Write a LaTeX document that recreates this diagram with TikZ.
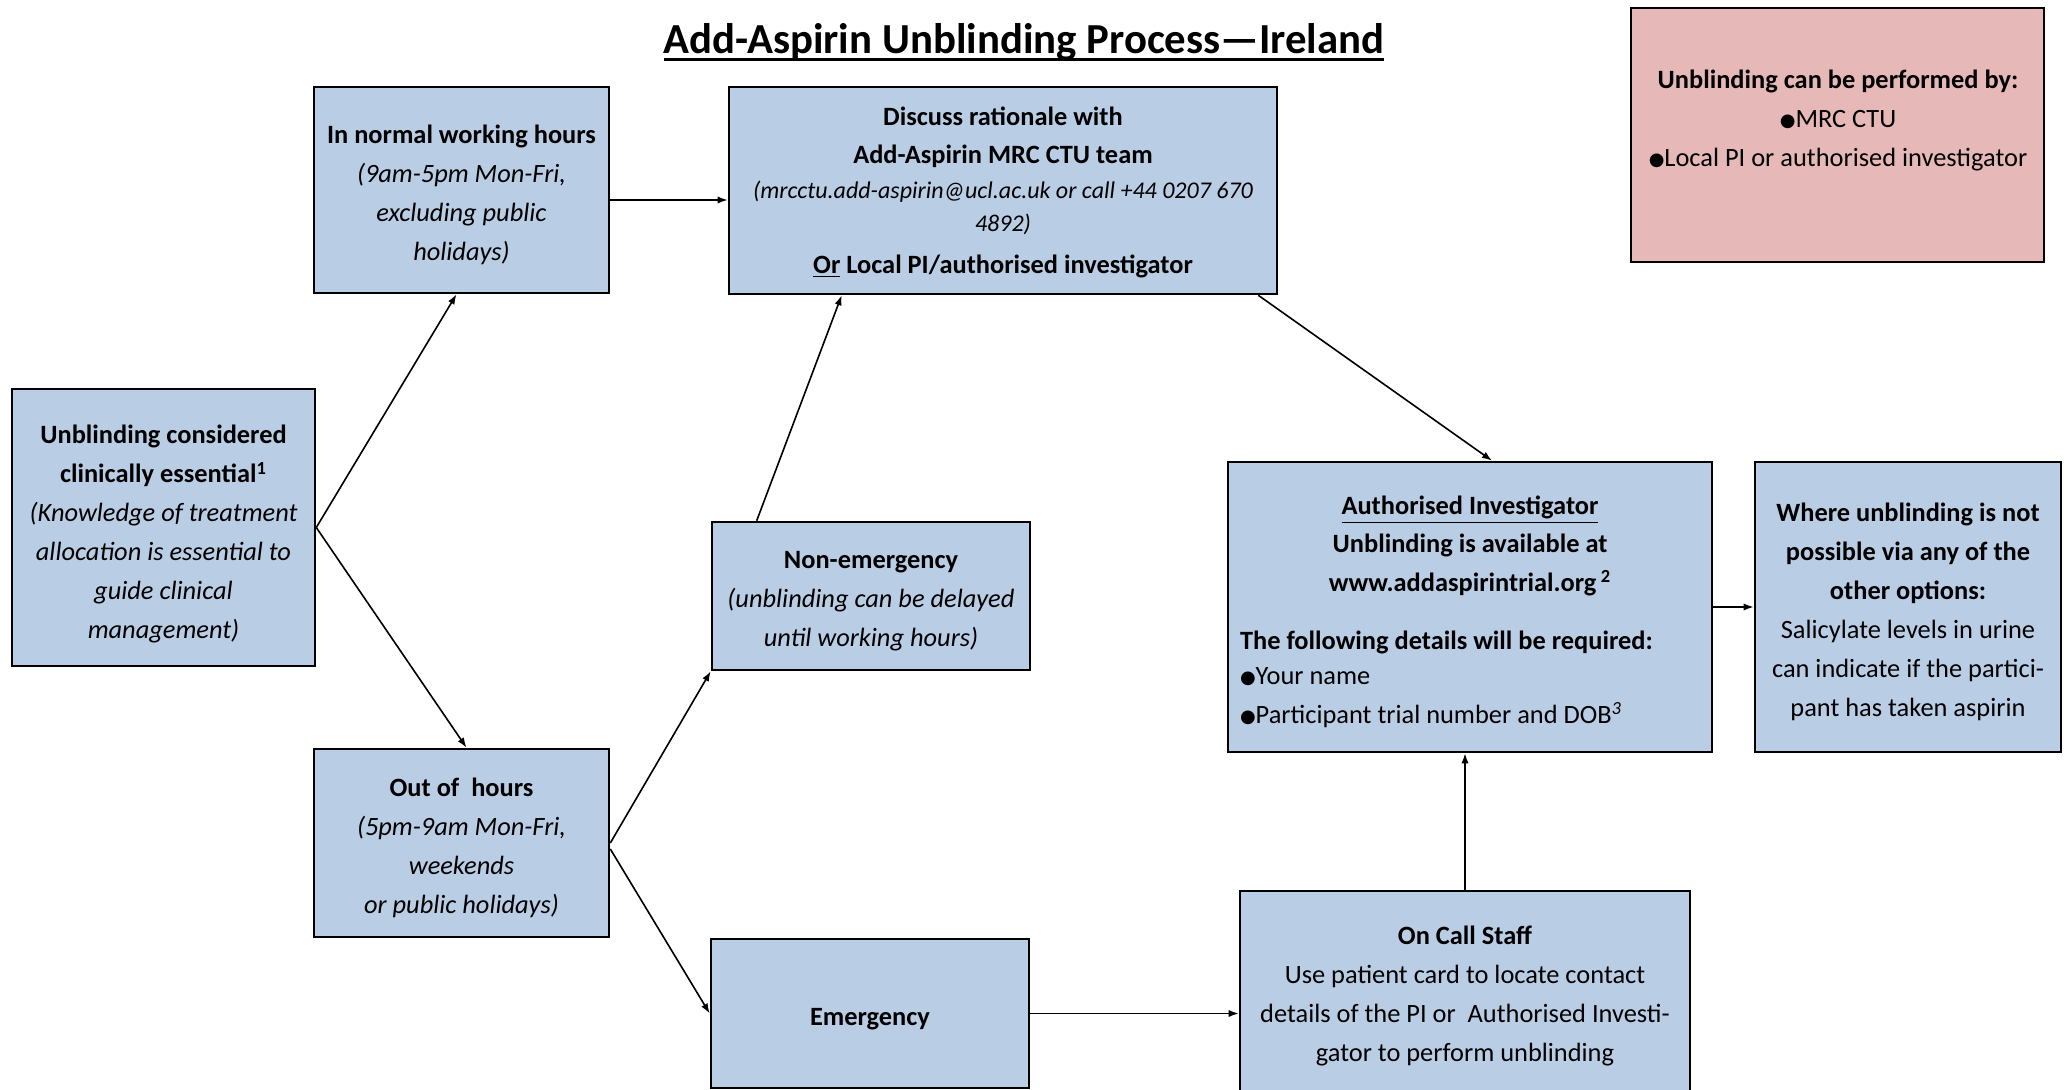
\documentclass[tikz,border=0pt]{standalone}
\usepackage{fontspec}
\setmainfont{Carlito}
\newfontfamily\dejavu{DejaVu Sans}
\usetikzlibrary{arrows.meta,calc}
\definecolor{boxblue}{HTML}{B9CDE5}
\definecolor{boxpink}{HTML}{E6B9B8}
\newcommand\bodyfont{\fontsize{13.2pt}{19.5pt}\selectfont}
\newcommand\smallit{\fontsize{12pt}{16pt}\selectfont\itshape}
\newcommand\blt{\raisebox{0.6pt}{\dejavu\fontsize{9pt}{9pt}\selectfont ●}}
\newsavebox\titlebox
\newcommand\thickul[1]{\sbox\titlebox{#1}\rlap{\usebox\titlebox}\rule[-3.3pt]{\wd\titlebox}{1.4pt}}
\begin{document}
\begin{tikzpicture}[x=0.5pt,y=-0.5pt,
  box/.style={draw=black,line width=1.3pt,fill=boxblue,inner sep=0pt},
  pbox/.style={box,fill=boxpink},
  txt/.style={align=center,font=\bodyfont,inner sep=0pt},
  arr/.style={-{Latex[length=5pt,width=3.6pt]},line width=0.8pt}]
\useasboundingbox (0,0) rectangle (2068,1090);
\fill[white] (0,0) rectangle (2068,1090);

% title
\node[font=\bfseries\fontsize{21.4pt}{25pt}\selectfont,inner sep=0pt,anchor=base] (title) at (1024,54)
  {\thickul{Add-Aspirin Unblinding Process—Ireland}};

% boxes
\node[box,minimum width=147.5pt,minimum height=103pt] (normal) at (461.5,190) {};
\node[box,minimum width=274pt,minimum height=103.5pt] (discuss) at (1003,190.5) {};
\node[pbox,minimum width=206.5pt,minimum height=127pt] (perf) at (1837.5,135) {};
\node[box,minimum width=151.5pt,minimum height=138.5pt] (consid) at (163.5,527.5) {};
\node[box,minimum width=147.5pt,minimum height=94pt] (out) at (461.5,843) {};
\node[box,minimum width=159pt,minimum height=74pt] (nonem) at (871,596) {};
\node[box,minimum width=159pt,minimum height=74.5pt] (emerg) at (870,1013.5) {};
\node[box,minimum width=242pt,minimum height=145pt] (auth) at (1470,607) {};
\node[box,minimum width=153pt,minimum height=145pt] (where) at (1908,607) {};
\node[box,minimum width=225pt,minimum height=109.5pt] (oncall) at (1465,1000.5) {};

% texts
\node[txt] (normal-t) at (461.5,194.5) {\textbf{In normal working hours}\\
  \textit{(9am-5pm Mon-Fri,}\\ \textit{excluding public}\\ \textit{holidays)}};
\node[txt] (discuss-t) at (1003,192.5) {\textbf{Discuss rationale with}\\[-0.5pt]
  \textbf{Add-Aspirin MRC CTU team}\\[-2pt]
  {\smallit (mrcctu.add-aspirin@ucl.ac.uk or call +44 0207 670}\\[-3pt]
  {\smallit 4892)}\\[1.5pt]
  \textbf{\underline{Or} Local PI/authorised investigator}};
\node[txt] (perf-t) at (1838,120.5) {\textbf{Unblinding can be performed by:}\\
  \blt MRC CTU\\ \blt Local PI or authorised investigator};
\node[txt] (consid-t) at (163.5,534.5) {\textbf{Unblinding considered}\\
  \textbf{clinically essential\textsuperscript{1}}\\
  \textit{(Knowledge of treatment}\\ \textit{allocation is essential to}\\
  \textit{guide clinical}\\ \textit{management)}};
\node[txt] (out-t) at (461.5,847.5) {\textbf{Out of\ \ hours}\\
  \textit{(5pm-9am Mon-Fri,}\\ \textit{weekends}\\ \textit{or public holidays)}};
\node[txt] (nonem-t) at (871,601) {\textbf{Non-emergency}\\
  \textit{(unblinding can be delayed}\\ \textit{until working hours)}};
\node[txt] (emerg-t) at (870,1019) {\textbf{Emergency}};
\node[txt,font=\bodyfont\bfseries] (auth-t) at (1470,612) {\underline{Authorised Investigator}\\[-0.5pt]
  Unblinding is available at\\
  www.addaspirintrial.org\,\textsuperscript{2}\\[9.5pt]
  \makebox[230pt][l]{The following details will be required:}\\[-2pt]
  \makebox[230pt][l]{\mdseries\blt Your name}\\
  \makebox[230pt][l]{\mdseries\blt Participant trial number and DOB\textsuperscript{\itshape 3}}};
\node[txt] (where-t) at (1908,612) {\textbf{Where unblinding is not}\\
  \textbf{possible via any of the}\\ \textbf{other options:}\\
  Salicylate levels in urine\\ can indicate if the partici-\\ pant has taken aspirin};
\node[txt] (oncall-t) at (1465,996) {\textbf{On Call Staff}\\
  Use patient card to locate contact\\
  details of the PI or\ \ Authorised Investi-\\
  gator to perform unblinding};

% connectors
\draw[arr] ($(normal.east)+(0,10)$) -- ($(discuss.west)+(0,9.5)$);
\draw[arr] (consid.east) -- ($(normal.south)+(-5,0)$);
\draw[arr] (consid.east) -- ($(out.north)+(5,0)$);
\draw[arr] ($(nonem.north west)+(46,0)$) -- ($(discuss.south west)+(114,0)$);
\draw[arr] ($(discuss.south east)+(-20,0)$) -- ($(auth.north)+(22,0)$);
\draw[arr] (out.east) -- (nonem.south west);
\draw[arr] ($(out.east)+(0,6)$) -- (emerg.west);
\draw[arr] (emerg.east) -- (emerg.east -| oncall.west);
\draw[arr] (oncall.north) -- (oncall.north |- auth.south);
\draw[arr] (auth.east) -- (where.west);
\end{tikzpicture}
\end{document}
